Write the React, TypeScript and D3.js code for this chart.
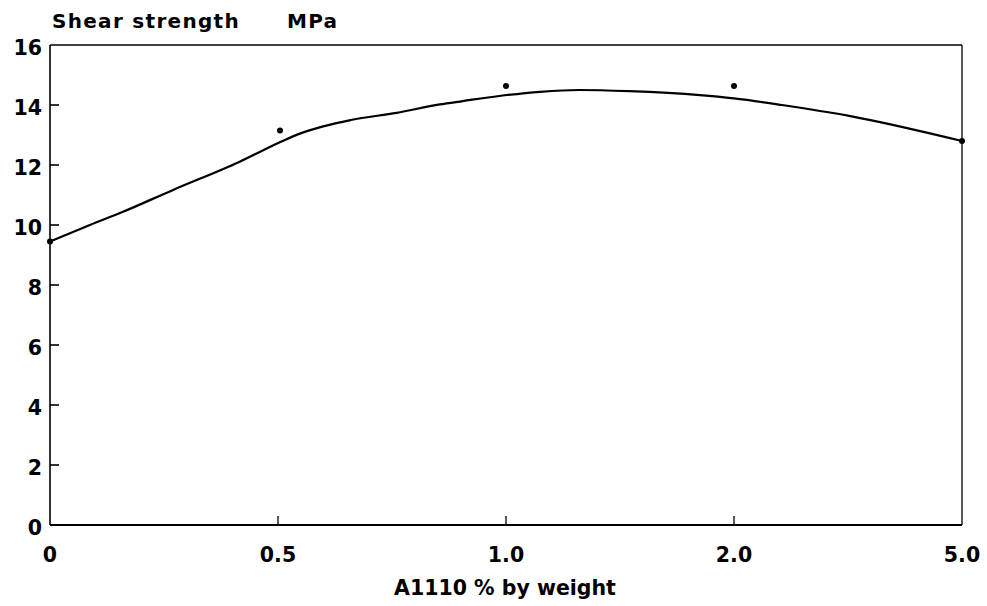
import React from "react";
import * as d3 from "d3";

const categories = ["0", "0.5", "1.0", "2.0", "5.0"];
const measured = [9.45, 13.15, 14.63, 14.63, 12.8];
const yTicks = [0, 2, 4, 6, 8, 10, 12, 14, 16];
// fitted curve: position along the category axis (index units) and value
const curvePos = [0, 0.175, 0.32, 0.54, 0.83, 1.02, 1.105, 1.32, 1.52, 1.71, 1.81, 1.97, 2.15, 2.32, 2.54, 2.85, 3.0, 3.21, 3.51, 4.0];
const curveVal = [9.45, 10.0, 10.44, 11.17, 12.1, 12.8, 13.07, 13.5, 13.74, 14.02, 14.13, 14.3, 14.44, 14.5, 14.46, 14.33, 14.22, 14.0, 13.63, 12.8];

const W = 987, H = 606;
const left = 50, right = 962, top = 45, bottom = 525;
const FONT = "'DejaVu Sans', Verdana, sans-serif";

export default function App() {
  const x = d3.scaleLinear().domain([0, categories.length - 1]).range([left, right]);
  const y = d3.scaleLinear().domain([0, 16]).range([bottom, top]);
  const line = d3.line<number>().x((_, i) => x(curvePos[i])).y((v) => y(v)).curve(d3.curveMonotoneX);
  const tick = { fontFamily: FONT, fontWeight: "bold" as const, fontSize: 20.5 };
  const title = { fontFamily: FONT, fontWeight: "bold" as const, fontSize: 20, letterSpacing: 1.3 };

  return (
    <svg width={W} height={H} style={{ position: "absolute", left: 0, top: 0, background: "#fff" }}>
      <rect x={0} y={0} width={W} height={H} fill="#fff" />
      {/* frame */}
      <line x1={left} x2={right} y1={top} y2={top} stroke="#000" strokeWidth={1.5} />
      <line x1={right} x2={right} y1={top} y2={bottom} stroke="#000" strokeWidth={1.3} />
      <line x1={left} x2={left} y1={top} y2={bottom} stroke="#000" strokeWidth={1.6} />
      <line x1={left} x2={right} y1={bottom} y2={bottom} stroke="#000" strokeWidth={2} />
      {/* y ticks */}
      {yTicks.map((t) => (
        <g key={t}>
          {t > 0 && t < 16 && <line x1={left} x2={left + 9} y1={y(t)} y2={y(t)} stroke="#000" strokeWidth={1.6} />}
          <text x={42} y={y(t) + 9.5} textAnchor="end" {...tick}>{t}</text>
        </g>
      ))}
      {/* x ticks */}
      {categories.map((c, i) => (
        <g key={c}>
          {i > 0 && i < categories.length - 1 && (
            <line x1={x(i)} x2={x(i)} y1={bottom} y2={bottom - 9} stroke="#000" strokeWidth={1.3} />
          )}
          <text x={x(i)} y={562} textAnchor="middle" {...tick}>{c}</text>
        </g>
      ))}
      {/* curve */}
      <path d={line(curveVal) || ""} fill="none" stroke="#000" strokeWidth={2.2} />
      {/* points */}
      {measured.map((v, i) => (
        <circle key={i} cx={x(i) + (i === 1 ? 2 : 0)} cy={y(v)} r={3} fill="#000" />
      ))}
      {/* titles */}
      <text x={52} y={28} {...title}>Shear strength</text>
      <text x={287} y={28} {...title}>MPa</text>
      <text x={505} y={595} textAnchor="middle" {...tick}>A1110 % by weight</text>
    </svg>
  );
}
